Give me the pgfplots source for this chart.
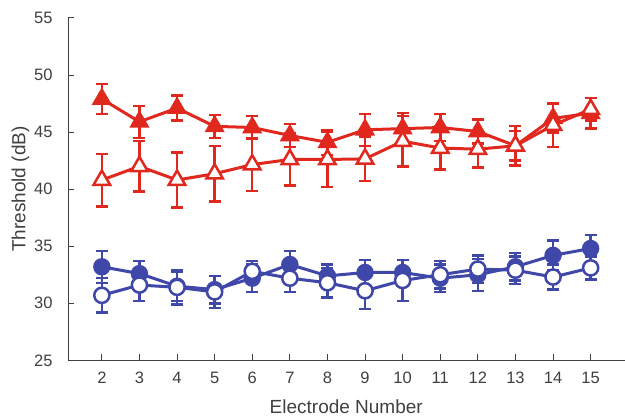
\documentclass[border=0pt]{standalone}
\usepackage{pgfplots}
\usepackage{pgfplotstable}
\pgfplotsset{compat=1.18}
\usepackage{fontspec}
\setmainfont{Liberation Sans}
\definecolor{myred}{RGB}{224,40,30}
\definecolor{myblue}{RGB}{63,72,168}
\definecolor{axgray}{RGB}{64,64,64}
\pgfplotstableread{
x y e
2 47.9 1.3
3 45.9 1.4
4 47.1 1.1
5 45.5 1.0
6 45.4 1.0
7 44.7 1.0
8 44.1 1.1
9 45.2 1.4
10 45.3 1.35
11 45.4 1.2
12 45.05 1.05
13 43.8 1.75
14 46.2 1.25
15 46.65 1.35
}\redfilled
\pgfplotstableread{
x y e
2 40.8 2.3
3 42.0 2.2
4 40.8 2.4
5 41.35 2.45
6 42.15 2.3
7 42.6 2.3
8 42.6 2.4
9 42.65 1.95
10 44.2 2.2
11 43.6 1.9
12 43.5 1.6
13 43.8 1.3
14 45.6 1.9
15 47.0 1.0
}\redopen
\pgfplotstableread{
x y e
2 33.2 1.4
3 32.6 1.1
4 31.5 1.3
5 31.2 1.2
6 32.2 1.2
7 33.4 1.2
8 32.4 1.0
9 32.7 1.1
10 32.7 1.1
11 32.2 1.2
12 32.5 1.4
13 33.2 1.2
14 34.2 1.3
15 34.8 1.2
}\bluefilled
\pgfplotstableread{
x y e
2 30.7 1.5
3 31.6 1.4
4 31.4 1.5
5 31.0 1.4
6 32.8 0.9
7 32.2 1.2
8 31.8 1.3
9 31.1 1.6
10 32.0 1.8
11 32.5 1.2
12 33.0 1.2
13 32.9 1.2
14 32.3 1.1
15 33.1 1.0
}\blueopen
\begin{document}
\begin{tikzpicture}
\begin{axis}[name=ax, at={(0,0)}, anchor=south west,
 scale only axis, width=556.5pt, height=342.5pt,
 xmin=1.1, xmax=15.9, ymin=25, ymax=55,
 axis x line=bottom, axis y line=left,
 axis line style={-, axgray, line width=0.8pt},
 xtick={2,...,15}, ytick={25,30,...,55},
 tick align=inside, major tick length=6pt,
 tick style={axgray, line width=0.8pt},
 ticklabel style={font=\fontsize{16.5}{18}\selectfont, text=axgray},
 /pgf/number format/assume math mode=true,
 xticklabel style={yshift=-8pt},
 yticklabel style={xshift=-12pt},
 xlabel={Electrode Number}, ylabel={Threshold (dB)},
 label style={font=\fontsize{19}{22}\selectfont, text=axgray},
 xlabel style={at={(axis description cs:0.5,-0.1556)}, anchor=base},
 ylabel style={at={(axis description cs:-0.0764,0.5)}, anchor=base},
 clip=false,
 every axis plot/.append style={line width=3pt},
]
\addplot[myred, mark=triangle*, mark size=9.5pt, mark options={solid, fill=myred, line width=2.2pt},
  error bars/.cd, y dir=both, y explicit,
  error bar style={line width=2.5pt, myred},
  error mark options={rotate=90, myred, line width=2.5pt, mark size=6pt}]
  table[x=x, y=y, y error=e]{\redfilled};
\addplot[myred, mark=triangle*, mark size=9.5pt, mark options={solid, fill=white, line width=2.5pt},
  error bars/.cd, y dir=both, y explicit,
  error bar style={line width=2.5pt, myred},
  error mark options={rotate=90, myred, line width=2.5pt, mark size=6pt}]
  table[x=x, y=y, y error=e]{\redopen};
\addplot[myblue, mark=*, mark size=7.6pt, mark options={solid, fill=myblue, line width=2.2pt},
  error bars/.cd, y dir=both, y explicit,
  error bar style={line width=2.5pt, myblue},
  error mark options={rotate=90, myblue, line width=2.5pt, mark size=6pt}]
  table[x=x, y=y, y error=e]{\bluefilled};
\addplot[myblue, mark=*, mark size=7.6pt, mark options={solid, fill=white, line width=2.5pt},
  error bars/.cd, y dir=both, y explicit,
  error bar style={line width=2.5pt, myblue},
  error mark options={rotate=90, myblue, line width=2.5pt, mark size=6pt}]
  table[x=x, y=y, y error=e]{\blueopen};
\end{axis}
\pgfresetboundingbox
\path (ax.south west) ++(-68pt,-56.6pt) rectangle ++(625pt,417pt);
\end{tikzpicture}
\end{document}
